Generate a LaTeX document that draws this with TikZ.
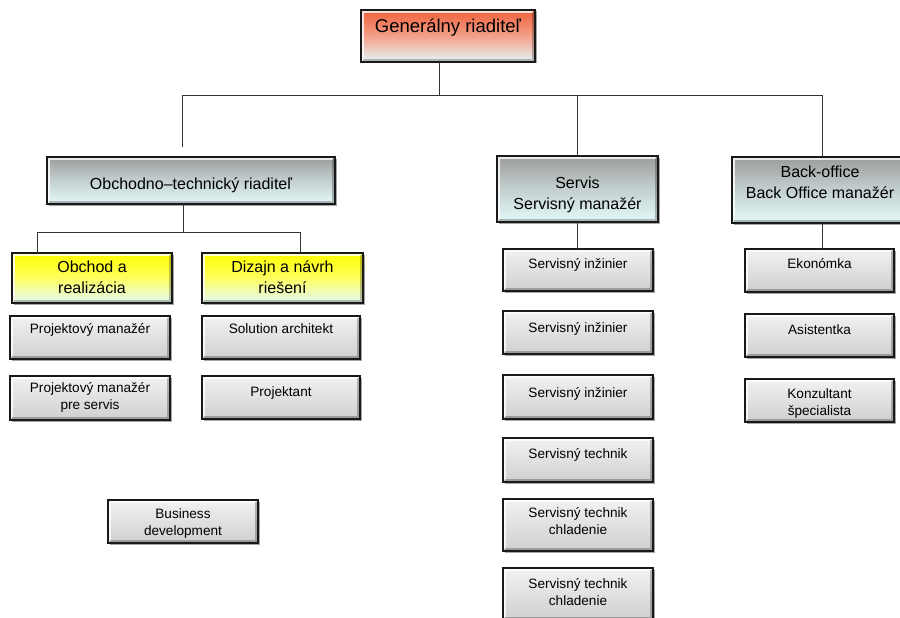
\documentclass[tikz,border=0pt]{standalone}
\usepackage{fontspec}
\setmainfont{Liberation Sans}
\usetikzlibrary{shadows}
\definecolor{genTop}{HTML}{F0603A}
\definecolor{genMid}{HTML}{F4A08A}
\definecolor{paleCyan}{HTML}{E4F8F8}
\definecolor{hdTop}{HTML}{9C9C9C}
\definecolor{hdMid}{HTML}{C4D0D0}
\definecolor{ylTop}{HTML}{FFFF00}
\definecolor{ylMid}{HTML}{FFFF60}
\definecolor{smTop}{HTML}{F2F2F2}
\definecolor{smBot}{HTML}{CFCFCF}
\definecolor{lineC}{HTML}{333333}
\newcommand\OrgBox[6]{%
  \node[#2, minimum width={(#5-#3)*1pt}, minimum height={(#6-#4)*1pt}] (#1) at ({(#3+#5)/2},{-(#4+#6)/2}) {};}
\begin{document}
\begin{tikzpicture}[x=1pt,y=1pt,
  boxbase/.style={draw=black!90, line width=1.1pt, inner sep=0pt, outer sep=0pt,
    drop shadow={shadow xshift=1.5pt, shadow yshift=-1.5pt, opacity=0.35, fill=black},
    path picture={
      \draw[white, opacity=0.8, line width=1.6pt]
        ([xshift=1.8pt,yshift=1.8pt]path picture bounding box.south west)
        |- ([xshift=-1.8pt,yshift=-1.8pt]path picture bounding box.north east);
      \draw[black, opacity=0.25, line width=1.6pt]
        ([xshift=1.8pt,yshift=1.8pt]path picture bounding box.south west)
        -| ([xshift=-1.8pt,yshift=-1.8pt]path picture bounding box.north east);}},
  genbox/.style={boxbase, top color=genTop, bottom color=paleCyan, middle color=genMid},
  hdbox/.style={boxbase, top color=hdTop, bottom color=paleCyan, middle color=hdMid},
  ylbox/.style={boxbase, top color=ylTop, bottom color=paleCyan, middle color=ylMid},
  smbox/.style={boxbase, top color=smTop, bottom color=smBot},
  txtG/.style={font=\fontsize{18.5}{22}\selectfont, inner sep=0pt, anchor=base},
  txtH/.style={font=\fontsize{16}{20.5}\selectfont, inner sep=0pt, anchor=base, align=center},
  txtS/.style={font=\fontsize{13.6}{16.5}\selectfont, inner sep=0pt, anchor=base, align=center},
  conn/.style={draw=lineC, line width=0.9pt}]
\useasboundingbox (0,0) rectangle (900,-618);
\fill[white] (0,0) rectangle (900,-618);

% boxes
\OrgBox{gen}{genbox}{361}{10}{535}{62}
\OrgBox{obt}{hdbox}{47}{157}{335}{204}
\OrgBox{serv}{hdbox}{497}{156}{658}{222}
\OrgBox{back}{hdbox}{732}{157}{912}{223}
\OrgBox{obch}{ylbox}{12}{253}{172}{303}
\OrgBox{diz}{ylbox}{202}{253}{363}{303}
\OrgBox{pm}{smbox}{10}{316}{170}{359}
\OrgBox{sa}{smbox}{202}{316}{360}{359}
\OrgBox{pms}{smbox}{10}{376}{170}{420}
\OrgBox{proj}{smbox}{202}{376}{360}{419}
\OrgBox{bd}{smbox}{108}{500}{258}{543}
\OrgBox{s1}{smbox}{503}{249}{653}{291}
\OrgBox{s2}{smbox}{503}{311}{653}{354}
\OrgBox{s3}{smbox}{503}{375}{653}{419}
\OrgBox{s4}{smbox}{503}{438}{653}{482}
\OrgBox{s5}{smbox}{503}{499}{653}{551}
\OrgBox{s6}{smbox}{503}{568}{653}{620}
\OrgBox{e1}{smbox}{745}{249}{894}{292}
\OrgBox{e2}{smbox}{745}{314}{894}{357}
\OrgBox{e3}{smbox}{745}{379}{894}{422}

% texts (anchor = baseline of the last line)
\node[txtG] (gent) at (448,-33) {Generálny riaditeľ};
\node[txtH] (obtt) at (191,-189) {Obchodno–technický riaditeľ};
\node[txtH] (servt) at (577.5,-209) {Servis\\Servisný manažér};
\node[txtH] (backt) at (820,-198) {Back-office\\Back Office manažér};
\node[txtH] (obcht) at (92,-293) {Obchod a\\realizácia};
\node[txtH] (dizt) at (282.5,-293) {Dizajn a návrh\\riešení};
\node[txtS] (pmt) at (90,-333) {Projektový manažér};
\node[txtS] (sat) at (281,-333) {Solution architekt};
\node[txtS] (pmst) at (90,-409) {Projektový manažér\\pre servis};
\node[txtS] (projt) at (281,-396) {Projektant};
\node[txtS] (bdt) at (183,-535) {Business\\development};
\node[txtS] (s1t) at (578,-268) {Servisný inžinier};
\node[txtS] (s2t) at (578,-332) {Servisný inžinier};
\node[txtS] (s3t) at (578,-397) {Servisný inžinier};
\node[txtS] (s4t) at (578,-458) {Servisný technik};
\node[txtS] (s5t) at (578,-534) {Servisný technik\\chladenie};
\node[txtS] (s6t) at (578,-605) {Servisný technik\\chladenie};
\node[txtS] (e1t) at (819.5,-268) {Ekonómka};
\node[txtS] (e2t) at (819.5,-334) {Asistentka};
\node[txtS] (e3t) at (819.5,-415) {Konzultant\\špecialista};

% connectors
\coordinate (gb) at (439,-95);
\coordinate (bL) at (182,-95);
\coordinate (bR) at (822,-95);
\coordinate (obtIn) at (182,-147);
\coordinate (ob) at (183,-232);
\coordinate (obL) at (37,-232);
\coordinate (obR) at (300,-232);
\draw[conn] (gen.south -| gb) -- (gb);
\draw[conn] (bL) -- (bR);
\draw[conn] (bL) -- (obtIn);
\draw[conn] (serv.north |- bL) -- (serv.north);
\draw[conn] (back.north |- bR) -- (back.north);
\draw[conn] (obt.south -| ob) -- (ob);
\draw[conn] (obL) -- (obR);
\draw[conn] (obL) -- (obL |- obch.north);
\draw[conn] (obR) -- (obR |- diz.north);
\draw[conn] (serv.south) -- (serv.south |- s1.north);
\draw[conn] (back.south) -- (back.south |- e1.north);
\end{tikzpicture}
\end{document}
